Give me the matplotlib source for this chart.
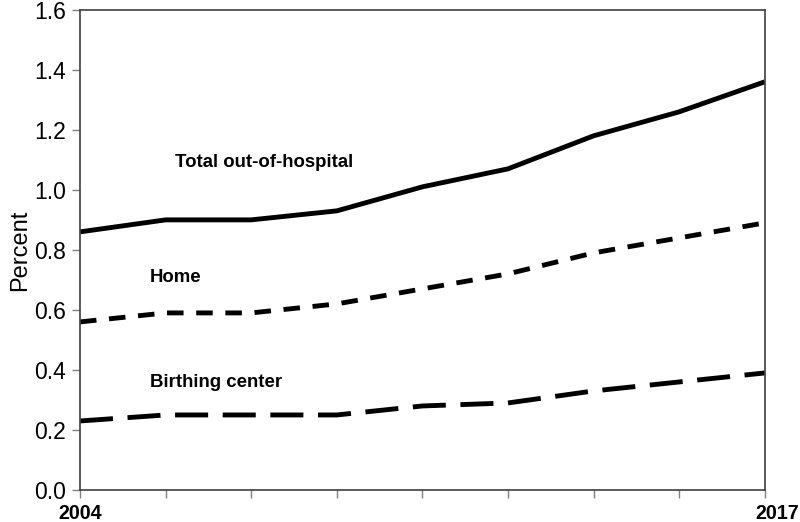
import matplotlib.pyplot as plt
import matplotlib.transforms as mtransforms

plt.rcParams['font.family'] = ['Liberation Sans', 'DejaVu Sans']

years = ['2004', '', '', '', '', '', '', '', '2017']
total = [0.86, 0.90, 0.90, 0.93, 1.01, 1.07, 1.18, 1.26, 1.36]
home = [0.56, 0.59, 0.59, 0.62, 0.67, 0.72, 0.79, 0.84, 0.89]
birthing = [0.23, 0.25, 0.25, 0.25, 0.28, 0.29, 0.33, 0.36, 0.39]

x = list(range(len(years)))

fig = plt.figure(figsize=(8, 5.22), dpi=100)
ax = fig.add_axes([0.1, 0.0613, 0.856, 0.92])

ax.plot(x, total, color='black', lw=3.5, solid_capstyle='butt')
ax.plot(x, home, color='black', lw=3.5, linestyle=(0, (3.4, 2.6)), dash_capstyle='butt')
ax.plot(x, birthing, color='black', lw=3.5, linestyle=(0, (6.8, 3.0)), dash_capstyle='butt')

# series labels
ax.text(1.11, 1.09, 'Total out-of-hospital', fontsize=13.4, fontweight='bold', va='center')
ax.text(0.82, 0.707, 'Home', fontsize=13.4, fontweight='bold', va='center')
ax.text(0.82, 0.357, 'Birthing center', fontsize=13.4, fontweight='bold', va='center')

ax.set_xlim(0, 8)
ax.set_ylim(0, 1.6)
ax.set_yticks([0.0, 0.2, 0.4, 0.6, 0.8, 1.0, 1.2, 1.4, 1.6])
ax.set_yticklabels(['0.0', '0.2', '0.4', '0.6', '0.8', '1.0', '1.2', '1.4', '1.6'], fontsize=16.5)
ax.set_xticks(x)
ax.set_xticklabels([])
ax.set_ylabel('Percent', fontsize=17, labelpad=2)

# year labels drawn by hand: 2017 sits a bit right of its tick in the original
trans = mtransforms.blended_transform_factory(ax.transData, fig.transFigure)
base = 1 - 519 / 522
ax.text(x[0], base, years[0], transform=trans, ha='center', va='baseline',
        fontsize=14.2, fontweight='bold')
ax.text(x[-1] + 0.14, base, years[-1], transform=trans, ha='center', va='baseline',
        fontsize=14.2, fontweight='bold', clip_on=False)

for s in ax.spines.values():
    s.set_color('#404040')
    s.set_linewidth(1.2)
ax.tick_params(axis='both', color='#808080', length=6, width=1)
ax.tick_params(axis='y', pad=4)

fig.savefig('out.png', dpi=100)
